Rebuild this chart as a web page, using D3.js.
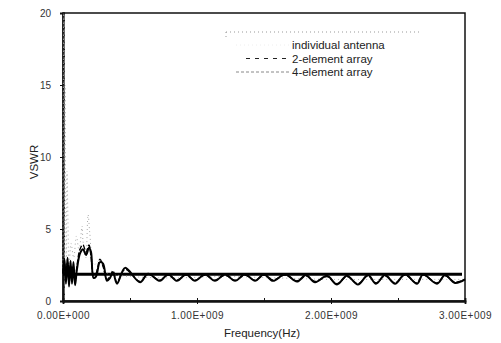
<!DOCTYPE html>
<html>
<head>
<meta charset="utf-8">
<script src="https://cdn.jsdelivr.net/npm/d3@7"></script>
<style>
  body { margin: 0; background: #fff; }
  svg { font-family: "Liberation Sans", Arial, sans-serif; }
</style>
</head>
<body>
<svg id="chart" width="501" height="343"></svg>
<script>
// frequencies in GHz
const arrayFreq = [0, 0.011, 0.022, 0.034, 0.045, 0.056, 0.067, 0.078, 0.09, 0.104, 0.127, 0.149, 0.172, 0.194,
  0.209, 0.228, 0.246, 0.276, 0.299, 0.328, 0.351, 0.373, 0.403, 0.463, 0.575, 0.634, 0.724, 0.784, 0.851,
  0.918, 0.985, 1.06, 1.134, 1.209, 1.284, 1.358, 1.433, 1.5, 1.567, 1.657, 1.746, 1.813, 1.881, 1.97,
  2.045, 2.119, 2.201, 2.276, 2.336, 2.403, 2.478, 2.552, 2.642, 2.687, 2.791, 2.851, 2.925, 3.0];
const fourElement = [1.9, 2.9, 1.2, 3.0, 1.0, 2.8, 1.2, 2.7, 1.1, 2.2, 3.3, 3.6, 3.2, 3.7,
  3.4, 1.6, 1.7, 2.7, 2.6, 1.4, 1.6, 2.0, 1.2, 2.3, 1.3, 1.9, 1.4, 1.85, 1.4,
  1.85, 1.4, 1.85, 1.4, 1.85, 1.4, 1.85, 1.4, 1.85, 1.4, 1.85, 1.35, 1.8, 1.3, 1.75,
  1.15, 1.75, 1.15, 1.8, 1.2, 1.8, 1.2, 1.85, 1.2, 1.85, 1.2, 1.8, 1.25, 1.5];
const twoElement = [2.0, 2.6, 1.4, 2.7, 1.3, 2.5, 1.4, 2.4, 1.3, 2.4, 3.6, 3.9, 3.4, 3.9,
  3.1, 1.8, 1.9, 2.9, 2.4, 1.5, 1.7, 2.1, 1.3, 2.2, 1.35, 1.85, 1.45, 1.8, 1.45,
  1.8, 1.45, 1.8, 1.45, 1.8, 1.45, 1.8, 1.45, 1.8, 1.45, 1.8, 1.4, 1.75, 1.35, 1.7,
  1.2, 1.7, 1.2, 1.75, 1.25, 1.75, 1.25, 1.8, 1.25, 1.8, 1.25, 1.75, 1.3, 1.5];
const indivFreq = [0, 0.005, 0.01, 0.015, 0.02, 0.025, 0.03, 0.037, 0.045, 0.06, 0.08, 0.1, 0.12, 0.142,
  0.149, 0.17, 0.187, 0.2, 0.23, 0.27, 0.32, 0.4, 0.5, 0.8, 1.2, 1.6, 2.0, 2.5, 3.0];
const indivVswr = [2, 20, 3, 15, 6.8, 2, 9, 5.6, 2.5, 4, 3, 4.5, 3.5, 5.2,
  4.2, 3, 6.0, 4.7, 2.5, 2.8, 2, 1.8, 1.7, 1.6, 1.7, 1.6, 1.5, 1.5, 1.5];
const limitLine = [1.85];
const yTicks = [0, 5, 10, 15, 20];
const xTicks = [0, 1e9, 2e9, 3e9];
const legendLabels = ["individual antenna", "2-element array", "4-element array"];

const svg = d3.select("#chart");
const margin = { left: 63, top: 13, right: 36, bottom: 42 };
const W = 501 - margin.left - margin.right;
const H = 343 - margin.top - margin.bottom;
const g = svg.append("g").attr("transform", `translate(${margin.left},${margin.top})`);

const x = d3.scaleLinear().domain([0, 3e9]).range([0, W]);
const y = d3.scaleLinear().domain([0, 20]).range([H, 0]);

const toPts = (fs, vs) => fs.map((f, i) => [f * 1e9, vs[i]]);
const lineGen = d3.line().x(d => x(d[0])).y(d => y(d[1])).curve(d3.curveCatmullRom.alpha(0.5));

// frame
g.append("rect").attr("width", W).attr("height", H)
  .attr("fill", "none").attr("stroke", "#111").attr("stroke-width", 1.5);

// axes
const yAxis = g.append("g").call(d3.axisLeft(y).tickValues(yTicks).tickSize(3).tickPadding(9));
const yMinor = g.append("g").call(d3.axisRight(y).tickValues(d3.range(0, 20.01, 0.5)).tickSize(2).tickFormat(""));
const xAxis = g.append("g").attr("transform", `translate(0,${H})`)
  .call(d3.axisBottom(x).tickValues(xTicks).tickSize(3).tickPadding(8)
    .tickFormat(d => d3.format(".2e")(d).replace(/e\+?(-?)(\d+)/, (m, s, n) => "E+" + s + n.padStart(3, "0"))));
const xMinor = g.append("g").attr("transform", `translate(0,${H})`)
  .call(d3.axisTop(x).tickValues(d3.range(0, 3.01e9, 0.5e9)).tickSize(3).tickFormat(""));
[yAxis, yMinor, xAxis, xMinor].forEach(a => {
  a.select(".domain").attr("stroke", "#111").attr("stroke-width", 1.8);
  a.selectAll(".tick line").attr("stroke", "#111");
});
yAxis.selectAll("text").attr("font-size", 10).attr("fill", "#333");
xAxis.selectAll("text").attr("font-size", 10).attr("fill", "#333").attr("letter-spacing", 0.5);

// axis titles
g.append("text").attr("transform", `translate(-25,${H / 2 + 5}) rotate(-90)`)
  .attr("text-anchor", "middle").attr("font-size", 11.5).attr("fill", "#222").text("VSWR");
g.append("text").attr("x", W / 2 - 2).attr("y", H + 36)
  .attr("text-anchor", "middle").attr("font-size", 11.5).attr("fill", "#222").text("Frequency(Hz)");

// reference line
g.selectAll(".limit").data(limitLine).enter().append("line")
  .attr("x1", x(0)).attr("x2", x(3e9) - 3).attr("y1", d => y(d)).attr("y2", d => y(d))
  .attr("stroke", "#000").attr("stroke-width", 3);

// series
const series = [
  { name: legendLabels[0], pts: toPts(indivFreq, indivVswr), color: "#aaa", width: 1, dash: "1,3" },
  { name: legendLabels[1], pts: toPts(arrayFreq, twoElement), color: "#000", width: 1.4, dash: "5,2" },
  { name: legendLabels[2], pts: toPts(arrayFreq, fourElement), color: "#000", width: 2, dash: null }
];
g.selectAll(".series").data(series).enter().append("path")
  .attr("d", d => lineGen(d.pts)).attr("fill", "none")
  .attr("stroke", d => d.color).attr("stroke-width", d => d.width)
  .attr("stroke-dasharray", d => d.dash);

// legend
const lg = svg.append("g").attr("transform", "translate(226,32)");
lg.append("line").attr("x1", 0).attr("x2", 196).attr("y1", 0).attr("y2", 0)
  .attr("stroke", "#999").attr("stroke-dasharray", "1,3");
lg.append("line").attr("x1", 0).attr("x2", 0).attr("y1", 0).attr("y2", 8)
  .attr("stroke", "#999").attr("stroke-dasharray", "1,3");
const legendStyles = [
  { color: "#eee", dash: "1,3", x1: 10 },
  { color: "#222", dash: "4,5", x1: 20 },
  { color: "#888", dash: "3,2", x1: 10 }
];
const items = lg.selectAll(".item").data(legendLabels).enter().append("g")
  .attr("transform", (d, i) => `translate(0,${13 + i * 13.5})`);
items.append("line").attr("x1", (d, i) => legendStyles[i].x1).attr("x2", 63).attr("y1", 0).attr("y2", 0)
  .attr("stroke", (d, i) => legendStyles[i].color).attr("stroke-dasharray", (d, i) => legendStyles[i].dash);
items.append("text").attr("x", 66).attr("y", 4).attr("font-size", 11.5).attr("fill", "#222").text(d => d);
</script>
</body>
</html>
